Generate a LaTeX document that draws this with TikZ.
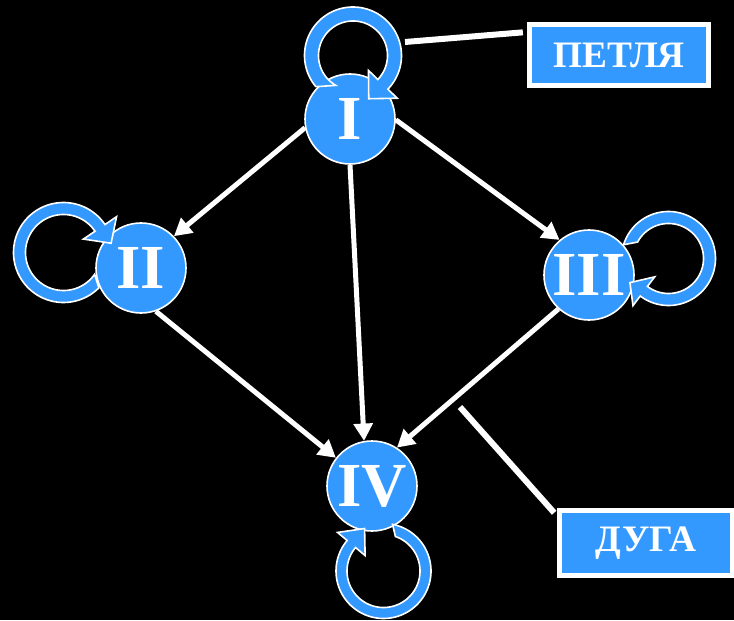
\documentclass[tikz,border=0pt]{standalone}
\usepackage{fontspec}
\setmainfont{Liberation Serif}
\usetikzlibrary{arrows.meta}
\definecolor{nodeblue}{RGB}{51,153,255}

% Circular arrow drawn as one closed band with an arrowhead.
% #1,#2 centre; #3 middle radius; #4 half band width;
% #5 outer tail angle; #6 inner tail angle; #7 head base angle;
% #8 half head width; #9 tip angle
\newcommand{\ringarrow}[9]{%
  \filldraw[ring]
    plot[domain=#5:#7, samples=90] ({#1+(#3+#4)*cos(\x)}, {#2-(#3+#4)*sin(\x)})
    -- ({#1+(#3+#8)*cos(#7)}, {#2-(#3+#8)*sin(#7)})
    -- ({#1+(#3+4.5)*cos(#9)}, {#2-(#3+4.5)*sin(#9)})
    -- ({#1+(#3-#8)*cos(#7)}, {#2-(#3-#8)*sin(#7)})
    -- ({#1+(#3-#4)*cos(#7)}, {#2-(#3-#4)*sin(#7)})
    -- plot[domain=#7:#6, samples=90] ({#1+(#3-#4)*cos(\x)}, {#2-(#3-#4)*sin(\x)})
    -- cycle;}

\begin{document}
\begin{tikzpicture}[x=0.75pt,y=-0.75pt,
  vertex/.style={circle, fill=nodeblue, draw=white, line width=1.2pt,
    minimum size=67.5pt, inner sep=0pt, text=white,
    font=\fontsize{47}{47}\selectfont\bfseries},
  edge/.style={draw=white, line width=3.75pt,
    -{Triangle[width=14pt,length=13pt]}},
  ring/.style={fill=nodeblue, draw=white, line width=1.2pt},
  pointer/.style={draw=white, line width=4.5pt},
  tag/.style={rectangle, fill=nodeblue, draw=white, line width=4pt,
    text=white, inner sep=0pt,
    font=\fontsize{28}{28}\selectfont\bfseries}]

\fill[black] (0,0) rectangle (734,620);
\useasboundingbox (0,0) rectangle (734,620);

% vertices
\node[vertex] (I)   at (350,119) {I};
\node[vertex] (II)  at (141,268) {II};
\node[vertex] (III) at (589,275) {III};
\node[vertex] (IV)  at (372,486) {IV};

% arcs
\draw[edge] (I.191) -- (II.44);
\draw[edge] (I.-1) -- (III.130);
\draw[edge] (I.270) -- (IV.100);
\draw[edge] (II.289) -- (IV.142);
\draw[edge] (III.228) -- (IV.57);

% loops
\ringarrow{353}{55.5}{41.5}{7}{220}{240}{-44}{20}{-70}
\ringarrow{63.5}{252.5}{44}{6}{-45}{-35}{-326}{20}{-349}
\ringarrow{668.5}{258.5}{41}{6}{163}{152}{-127}{18}{-148}
\ringarrow{383.5}{571}{42}{5.5}{79}{71}{-220}{18}{-246}

% captions
\node[tag, minimum width=134.25pt, minimum height=45.75pt] (petlya) at (619,55) {ПЕТЛЯ};
\node[tag, minimum width=129.75pt, minimum height=48.75pt] (duga) at (646,543) {ДУГА};

\coordinate (looptag) at (405,42);
\coordinate (arctag) at (460,407);
\draw[pointer, shorten >=3pt] (looptag) -- (petlya.166);
\draw[pointer, shorten >=3pt] (arctag) -- (duga.163);
\end{tikzpicture}
\end{document}
